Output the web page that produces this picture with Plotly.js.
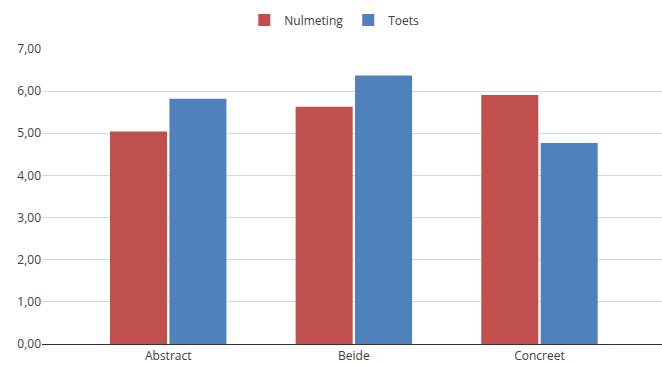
<!DOCTYPE html>
<html><head><meta charset="utf-8">
<script src="https://cdn.plot.ly/plotly-3.0.1.min.js"></script>
<style>html,body{margin:0;padding:0;background:#fff}#chart{width:662px;height:365px}</style>
</head><body><div id="chart"></div>
<script>
const categories = ["Abstract", "Beide", "Concreet"];
const nulmeting = [5.04, 5.63, 5.91];
const toets = [5.82, 6.37, 4.77];
const seriesNames = ["Nulmeting", "Toets"];
const yTicks = [0, 1, 2, 3, 4, 5, 6, 7];

const traces = [
  {type: "bar", name: seriesNames[0], x: categories, y: nulmeting, marker: {color: "#c0504d"}, hoverinfo: "none"},
  {type: "bar", name: seriesNames[1], x: categories, y: toets, marker: {color: "#4f81bd"}, hoverinfo: "none"}
];
const layout = {
  width: 662, height: 365,
  margin: {l: 42, r: 0, t: 49, b: 21},
  font: {family: "Open Sans, sans-serif", size: 12, color: "#404040"},
  separators: ",.",
  barmode: "group", bargap: 0.36, bargroupgap: 0.04,
  showlegend: true,
  legend: {orientation: "h", xref: "container", yref: "container", x: 0.505, xanchor: "center", y: 0.985, yanchor: "top", font: {size: 12, color: "#404040"}},
  xaxis: {range: [-0.68, 2.66], showgrid: false, showline: false, zeroline: false, ticks: "", ticklabelstandoff: 3, tickfont: {size: 12, color: "#404040"}},
  yaxis: {range: [0, 7], tickvals: yTicks, tickformat: ".2f", showgrid: true, gridcolor: "#d9d9d9", gridwidth: 1, zeroline: true, zerolinecolor: "#333333", zerolinewidth: 1, ticks: "", ticklen: 0, tickfont: {size: 12, color: "#404040"}, showline: false},
  plot_bgcolor: "#fff", paper_bgcolor: "#fff"
};
Plotly.newPlot("chart", traces, layout, {displayModeBar: false, staticPlot: true});
</script></body></html>
